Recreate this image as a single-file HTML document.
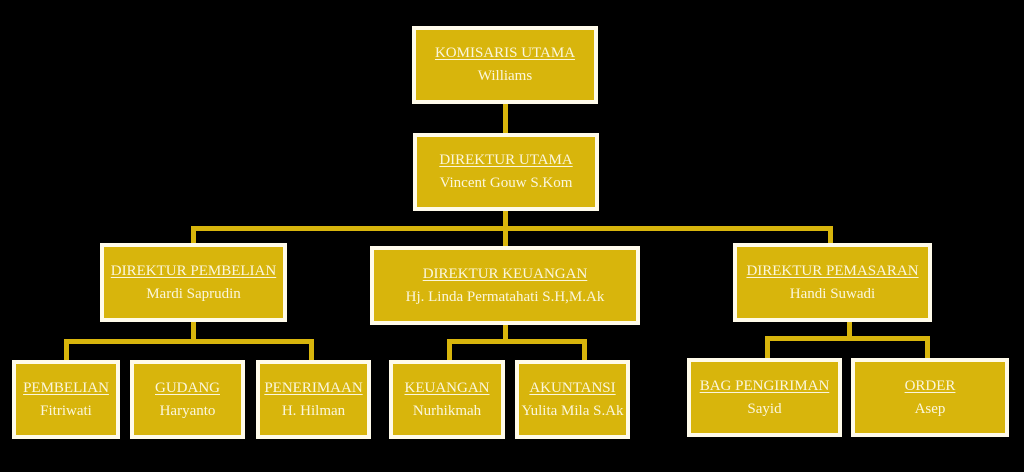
<!DOCTYPE html>
<html><head><meta charset="utf-8"><style>
body{margin:0;width:1024px;height:472px;background:#000;position:relative;overflow:hidden;font-family:"Liberation Serif",serif;}
.b{position:absolute;box-sizing:border-box;background:#d8b50c;border:4px solid #fffbea;color:#fbf6dc;text-align:center;display:flex;flex-direction:column;justify-content:center;font-size:15px;line-height:23px;}
.b u{text-decoration:underline;text-decoration-thickness:1px;text-underline-offset:2px;}
.l{position:absolute;background:#d8b50c;}
</style></head><body>
<div class="l" style="left:503px;top:100px;width:5px;height:36px"></div>
<div class="l" style="left:503px;top:208px;width:5px;height:40px"></div>
<div class="l" style="left:191px;top:226px;width:642px;height:5px"></div>
<div class="l" style="left:191px;top:226px;width:5px;height:20px"></div>
<div class="l" style="left:828px;top:226px;width:5px;height:20px"></div>
<div class="l" style="left:191px;top:318px;width:5px;height:24px"></div>
<div class="l" style="left:64px;top:339px;width:250px;height:5px"></div>
<div class="l" style="left:64px;top:339px;width:5px;height:23px"></div>
<div class="l" style="left:309px;top:339px;width:5px;height:23px"></div>
<div class="l" style="left:503px;top:320px;width:5px;height:22px"></div>
<div class="l" style="left:447px;top:339px;width:140px;height:5px"></div>
<div class="l" style="left:447px;top:339px;width:5px;height:23px"></div>
<div class="l" style="left:582px;top:339px;width:5px;height:23px"></div>
<div class="l" style="left:847px;top:318px;width:5px;height:22px"></div>
<div class="l" style="left:765px;top:336px;width:165px;height:5px"></div>
<div class="l" style="left:765px;top:336px;width:5px;height:24px"></div>
<div class="l" style="left:925px;top:336px;width:5px;height:24px"></div>

<div class="b" style="left:412px;top:26px;width:186px;height:78px"><u>KOMISARIS UTAMA</u>Williams</div>
<div class="b" style="left:413px;top:133px;width:186px;height:78px"><u>DIREKTUR UTAMA</u>Vincent Gouw S.Kom</div>
<div class="b" style="left:100px;top:243px;width:187px;height:79px"><u>DIREKTUR PEMBELIAN</u>Mardi Saprudin</div>
<div class="b" style="left:370px;top:246px;width:270px;height:79px"><u>DIREKTUR KEUANGAN </u>Hj. Linda Permatahati S.H,M.Ak</div>
<div class="b" style="left:733px;top:243px;width:199px;height:79px"><u>DIREKTUR PEMASARAN</u>Handi Suwadi</div>
<div class="b" style="left:12px;top:360px;width:108px;height:79px"><u>PEMBELIAN</u>Fitriwati</div>
<div class="b" style="left:130px;top:360px;width:115px;height:79px"><u>GUDANG</u>Haryanto</div>
<div class="b" style="left:256px;top:360px;width:115px;height:79px"><u>PENERIMAAN</u>H. Hilman</div>
<div class="b" style="left:389px;top:360px;width:116px;height:79px"><u>KEUANGAN</u>Nurhikmah</div>
<div class="b" style="left:515px;top:360px;width:115px;height:79px"><u>AKUNTANSI</u>Yulita Mila S.Ak</div>
<div class="b" style="left:687px;top:358px;width:155px;height:79px"><u>BAG PENGIRIMAN</u>Sayid</div>
<div class="b" style="left:851px;top:358px;width:158px;height:79px"><u>ORDER</u>Asep</div>
</body></html>
